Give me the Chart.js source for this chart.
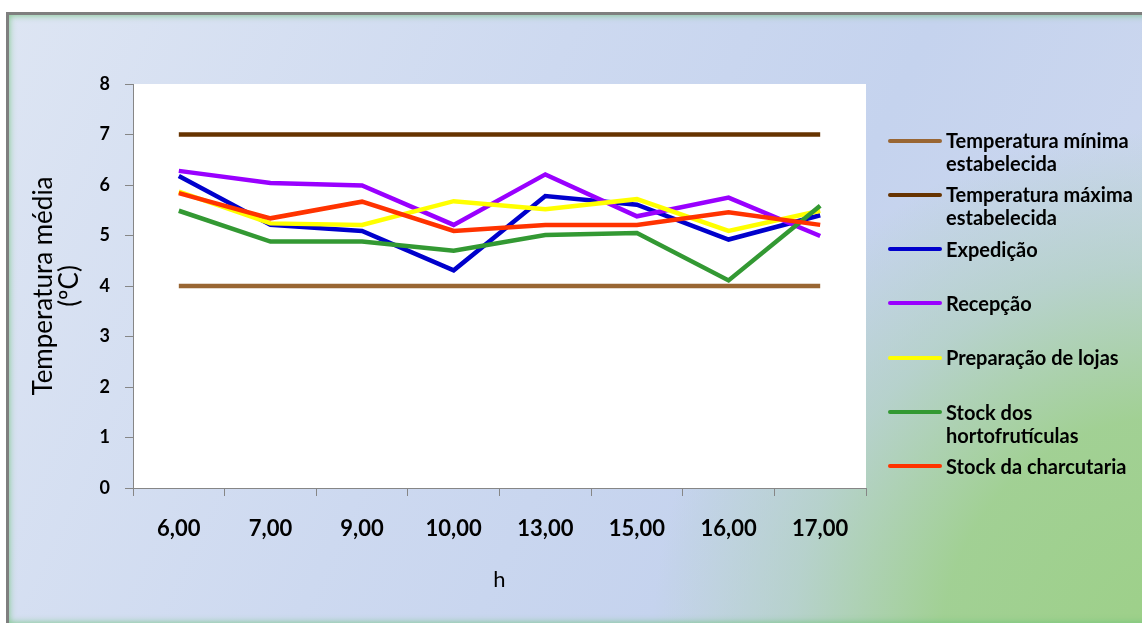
<!DOCTYPE html>
<html lang="pt">
<head>
<meta charset="utf-8">
<script src="https://cdn.jsdelivr.net/npm/chart.js@4/dist/chart.umd.min.js"></script>
<style>
  html, body { margin: 0; padding: 0; background: #fff; width: 1142px; height: 623px; overflow: hidden; }
  #fundo {
    position: absolute; left: 6px; top: 12px; width: 1140px; height: 608px;
    border-left: 3px solid #7f7f7f; border-top: 3px solid #7f7f7f;
    background:
      radial-gradient(circle at 102% 104%, rgba(157,208,136,1) 0px, rgba(160,208,145,0.97) 230px, rgba(175,208,190,0.7) 380px, rgba(196,211,236,0) 520px),
      linear-gradient(115deg, #dde5f3 0%, #cdd9f0 40%, #c5d3ee 65%, #cfd9ef 100%);
    box-shadow: inset 0 0 7px rgba(110,195,120,0.9);
  }
  #wrap { position: absolute; left: 0; top: 0; width: 1142px; height: 623px; }
  #legenda {
    position: absolute; left: 888px; top: 129px; width: 254px;
    font-family: Lato, "Open Sans", sans-serif; font-weight: bold; font-size: 20px; color: #000;
  }
  .item { position: relative; height: 54.33px; line-height: 23px; padding-left: 58px; white-space: nowrap; }
  .item span.traco { position: absolute; left: 0; top: 9.5px; width: 54px; height: 4px; border-radius: 2px; }
</style>
</head>
<body>
<div id="fundo"></div>
<div id="wrap"><canvas id="grafico"></canvas></div>
<div id="legenda"></div>
<script>
// Horas de medição (eixo x)
const horas = ["6,00", "7,00", "9,00", "10,00", "13,00", "15,00", "16,00", "17,00"];

// Limites estabelecidos
const tempMinima = [4, 4, 4, 4, 4, 4, 4, 4];
const tempMaxima = [7, 7, 7, 7, 7, 7, 7, 7];

// Temperatura média por zona
const expedicao = [6.18, 5.21, 5.09, 4.31, 5.78, 5.61, 4.92, 5.40];
const recepcao = [6.28, 6.04, 5.99, 5.21, 6.21, 5.38, 5.75, 4.99];
const preparacao = [5.87, 5.24, 5.21, 5.68, 5.52, 5.72, 5.09, 5.49];
const hortofruticolas = [5.49, 4.88, 4.88, 4.70, 5.01, 5.05, 4.11, 5.59];
const charcutaria = [5.84, 5.34, 5.67, 5.09, 5.21, 5.21, 5.46, 5.21];

const nomes = [
  ["Temperatura mínima", "estabelecida"],
  ["Temperatura máxima", "estabelecida"],
  ["Expedição"],
  ["Recepção"],
  ["Preparação de lojas"],
  ["Stock dos", "hortofrutículas"],
  ["Stock da charcutaria"]
];
const cores = ["#996633", "#663300", "#0000cc", "#9900ff", "#ffff00", "#339933", "#ff3300"];
const series = [tempMinima, tempMaxima, expedicao, recepcao, preparacao, hortofruticolas, charcutaria];

// Fundo branco da área do gráfico
const fundoBranco = {
  id: "fundoBranco",
  beforeDraw(chart) {
    const { ctx, chartArea } = chart;
    ctx.save();
    ctx.fillStyle = "#ffffff";
    ctx.fillRect(chartArea.left, chartArea.top, chartArea.right - chartArea.left, chartArea.bottom - chartArea.top);
    ctx.restore();
  }
};

const ctx = document.getElementById("grafico").getContext("2d");

new Chart(ctx, {
  type: "line",
  data: {
    labels: horas,
    datasets: series.map((valores, i) => ({
      label: nomes[i].join(" "),
      data: valores,
      borderColor: cores[i],
      backgroundColor: cores[i],
      borderWidth: 4.5,
      pointRadius: 0,
      tension: 0,
      fill: false,
      order: series.length - i
    }))
  },
  options: {
    responsive: true,
    maintainAspectRatio: false,
    animation: false,
    layout: { padding: { left: 27, right: 276, top: 84, bottom: 26 } },
    plugins: {
      legend: { display: false },
      tooltip: { enabled: false }
    },
    scales: {
      x: {
        offset: true,
        grid: { display: true, drawOnChartArea: false, offset: true, tickLength: 8, color: "#868686" },
        border: { color: "#868686" },
        ticks: { color: "#000", padding: 20, font: { family: "Lato", size: 22, weight: "bold" }, maxRotation: 0 },
        title: { display: true, text: "h", color: "#000", font: { family: "Lato", size: 22 } },
        afterFit(scale) { scale.height = 109; }
      },
      y: {
        min: 0,
        max: 8,
        ticks: { stepSize: 1, color: "#000", padding: 15, font: { family: "Lato", size: 18, weight: "bold" } },
        grid: { display: true, drawOnChartArea: false, tickLength: 8, color: "#868686" },
        border: { color: "#868686" },
        title: { display: true, text: ["Temperatura média", "(ºC)"], color: "#000", font: { family: "Lato", size: 26, lineHeight: 1.0 } },
        afterFit(scale) { scale.width = 106; }
      }
    }
  },
  plugins: [fundoBranco]
});

// Legenda à direita
const legenda = document.getElementById("legenda");
nomes.forEach((linhas, i) => {
  const item = document.createElement("div");
  item.className = "item";
  const traco = document.createElement("span");
  traco.className = "traco";
  traco.style.background = cores[i];
  item.appendChild(traco);
  item.insertAdjacentHTML("beforeend", linhas.join("<br>"));
  legenda.appendChild(item);
});
</script>
</body>
</html>
